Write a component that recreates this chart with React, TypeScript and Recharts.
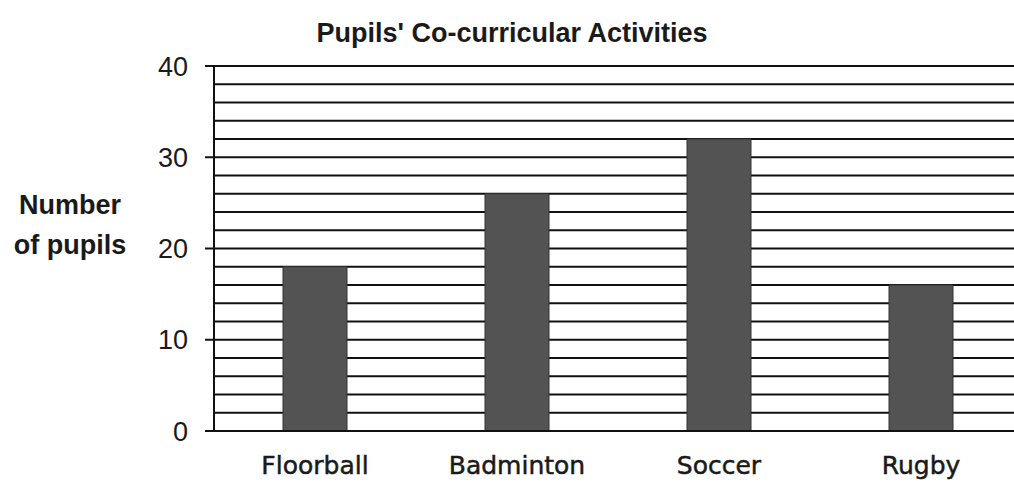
import React from "react";
import { BarChart, Bar, XAxis, YAxis, CartesianGrid } from "recharts";

const activities = ["Floorball", "Badminton", "Soccer", "Rugby"];
const pupils = [18, 26, 32, 16];
const gridTicks = [0, 2, 4, 6, 8, 10, 12, 14, 16, 18, 20, 22, 24, 26, 28, 30, 32, 34, 36, 38, 40];
const labelledTicks = [0, 10, 20, 30, 40];

const data = activities.map((name, i) => ({ name, pupils: pupils[i] }));

const YTick = (props: any) => {
  const { x, y, payload } = props;
  if (!labelledTicks.includes(payload.value)) return null;
  return (
    <g>
      <line x1={x - 9} x2={x} y1={y} y2={y} stroke="#111" strokeWidth={2} />
      <text
        x={x - 26}
        y={y}
        dy="0.36em"
        textAnchor="end"
        fontSize={27}
        fontFamily="'Liberation Sans', Arial, sans-serif"
        fill="#1a1a1a"
      >
        {payload.value}
      </text>
    </g>
  );
};

const XTick = (props: any) => {
  const { x, y, payload } = props;
  return (
    <text
      x={x}
      y={y}
      dy={43}
      textAnchor="middle"
      fontSize={25}
      fontFamily="'DejaVu Sans', Verdana, sans-serif"
      fill="#1a1a1a"
      stroke="#1a1a1a"
      strokeWidth={0.5}
    >
      {payload.value}
    </text>
  );
};

export default function App() {
  return (
    <div
      style={{
        position: "absolute",
        left: 0,
        top: 0,
        width: 1014,
        height: 491,
        overflow: "hidden",
        background: "#fff",
      }}
    >
      <div
        style={{
          position: "absolute",
          left: 0,
          top: 20,
          width: 1024,
          textAlign: "center",
          fontFamily: "'Liberation Sans', Arial, sans-serif",
          fontWeight: "bold",
          fontSize: 27,
          lineHeight: "26px",
          color: "#1a1a1a",
        }}
      >
        Pupils' Co-curricular Activities
      </div>
      <div
        style={{
          position: "absolute",
          left: 0,
          top: 185,
          width: 140,
          textAlign: "center",
          fontFamily: "'Liberation Sans', Arial, sans-serif",
          fontWeight: "bold",
          fontSize: 27,
          lineHeight: "40px",
          color: "#1a1a1a",
        }}
      >
        Number
        <br />
        of pupils
      </div>
      <div style={{ position: "absolute", left: 0, top: 0 }}>
        <BarChart
          width={1022}
          height={491}
          data={data}
          margin={{ top: 66, right: 0, left: 0, bottom: 30 }}
        >
          <CartesianGrid vertical={false} stroke="#111" strokeWidth={2} />
          <XAxis
            dataKey="name"
            height={30}
            tickLine={false}
            tickSize={0}
            tickMargin={0}
            axisLine={{ stroke: "#111", strokeWidth: 2 }}
            tick={<XTick />}
            interval={0}
          />
          <YAxis
            width={214}
            domain={[0, 40]}
            ticks={gridTicks}
            interval={0}
            tickLine={false}
            tickSize={0}
            tickMargin={0}
            axisLine={{ stroke: "#111", strokeWidth: 2 }}
            tick={<YTick />}
          />
          <Bar
            dataKey="pupils"
            fill="#535353"
            stroke="#333"
            strokeWidth={1}
            barSize={64}
            isAnimationActive={false}
          />
        </BarChart>
      </div>
    </div>
  );
}
